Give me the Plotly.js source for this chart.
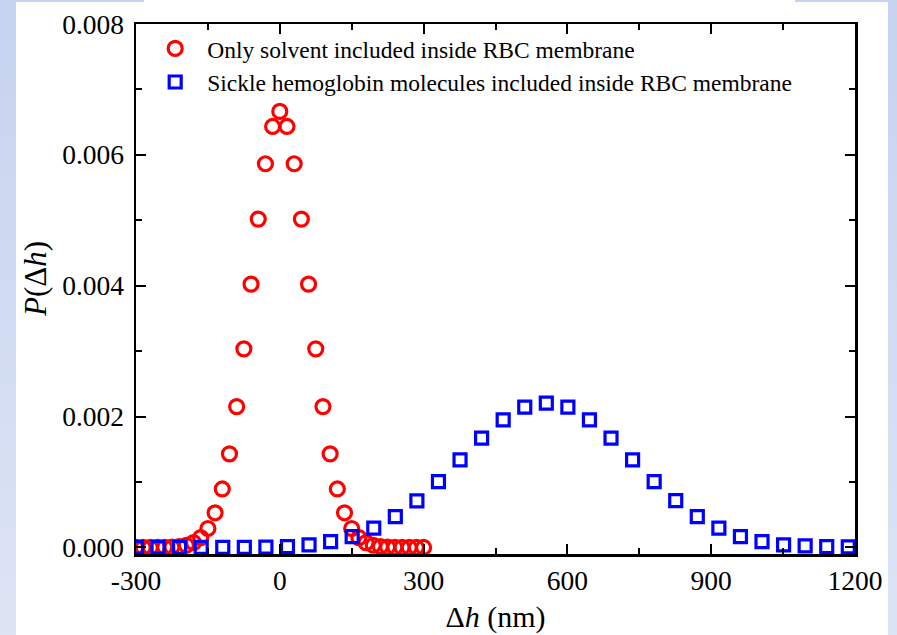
<!DOCTYPE html>
<html><head><meta charset="utf-8">
<script src="https://cdn.plot.ly/plotly-3.0.1.min.js"></script>
<style>
html,body{margin:0;padding:0;}
body{width:897px;height:635px;overflow:hidden;position:relative;background:linear-gradient(#c6d3ef,#dde4f4);}
#bg{position:absolute;left:16px;top:0;width:872px;height:635px;background:#fff;}
#topl{position:absolute;left:16px;top:0;width:128px;height:2px;background:#c6d3ef;}
#topr{position:absolute;left:795px;top:0;width:93px;height:2px;background:#c6d3ef;}
#chart{position:absolute;left:0;top:0;width:897px;height:635px;}
</style></head><body>
<div id="bg"></div><div id="topl"></div><div id="topr"></div><div id="chart"></div>
<script>
// Series 1: only solvent inside RBC membrane (red circles)
const solventX = [-300,-285,-270,-255,-240,-225,-210,-195,-180,-165,-150,-135,-120,-105,-90,-75,-60,-45,-30,-15,0,
                  15,30,45,60,75,90,105,120,135,150,165,180,195,210,225,240,255,270,285,300];
const solventY = [0,0,0,0.000001,0.000002,0.000006,0.000015,0.000034,0.000074,0.00015,0.00029,0.00053,0.000894,0.00143,0.002153,0.003035,0.004024,0.005018,0.005864,0.006434,0.006664,
                  0.006434,0.005864,0.005018,0.004024,0.003035,0.002153,0.00143,0.000894,0.00053,0.00029,0.00015,0.000074,0.000034,0.000015,0.000006,0.000002,0.000001,0,0,0];
// Series 2: sickle hemoglobin molecules inside RBC membrane (blue squares)
const sickleX = [-299,-254,-209,-164,-119,-74,-29,16,61,106,151,196,241,286,331,376,421,466,511,556,
                 601,646,691,736,781,826,871,916,961,1006,1051,1096,1141,1186];
const sickleY = [0,0,0,0,0.000001,0.000002,0.000005,0.000012,0.00004,0.000089,0.000165,0.000294,0.000471,0.000711,0.001006,0.001338,0.00167,0.00195,0.002144,0.002205,
                 0.002144,0.00195,0.00167,0.001338,0.001006,0.000716,0.000471,0.000294,0.000165,0.000089,0.000038,0.000023,0.000012,0.00001];
const seriesNames = ['Only solvent included inside RBC membrane','Sickle hemoglobin molecules included inside RBC membrane'];
const xTickVals = [-300,0,300,600,900,1200];
const xTickText = ['-300','0','300','600','900','1200'];
const xMinorVals = [-150,150,450,750,1050];
const yTickVals = [0,0.002,0.004,0.006,0.008];
const yTickText = ['0.000','0.002','0.004','0.006','0.008'];
const yMinorVals = [0.001,0.003,0.005,0.007];

const FONT = '"Liberation Serif","Times New Roman",serif';

const traces = [
  {x: solventX, y: solventY, name: seriesNames[0], type: 'scatter', mode: 'markers',
   marker: {symbol: 'circle-open', size: 14, color: '#ff0000', line: {width: 3.2, color: '#ff0000'}}},
  {x: sickleX, y: sickleY, name: seriesNames[1], type: 'scatter', mode: 'markers',
   marker: {symbol: 'square-open', size: 12, color: '#0000ff', line: {width: 3.2, color: '#0000ff'}}}
];

const axisCommon = {
  showline: true, linewidth: 2.5, linecolor: '#000', mirror: 'allticks',
  ticks: 'inside', ticklen: 10, tickwidth: 2, tickcolor: '#000',
  showgrid: false, zeroline: false, automargin: false,
  tickfont: {family: FONT, size: 27.5, color: '#000'}
};

const layout = {
  width: 897, height: 635,
  paper_bgcolor: 'rgba(0,0,0,0)', plot_bgcolor: '#fff',
  margin: {l: 136, r: 42, t: 24, b: 81},
  font: {family: FONT, color: '#000'},
  showlegend: true,
  legend: {x: 0.01, y: 0.995, xanchor: 'left', yanchor: 'top', bgcolor: 'rgba(0,0,0,0)',
           itemwidth: 54, traceorder: 'normal',
           font: {family: FONT, size: 23.5, color: '#000'}},
  xaxis: Object.assign({}, axisCommon, {
    range: [-300, 1200], tickmode: 'array', tickvals: xTickVals, ticktext: xTickText,
    minor: {tickmode: 'array', tickvals: xMinorVals, ticks: 'inside', ticklen: 6, tickwidth: 2, tickcolor: '#000'},
    title: {text: 'Δ<i>h</i> (nm)', font: {family: FONT, size: 30, color: '#000'}, standoff: 12}
  }),
  yaxis: Object.assign({}, axisCommon, {
    range: [-0.0001, 0.008], tickmode: 'array', tickvals: yTickVals, ticktext: yTickText,
    ticklabelstandoff: 4,
    minor: {tickmode: 'array', tickvals: yMinorVals, ticks: 'inside', ticklen: 6, tickwidth: 2, tickcolor: '#000'}
  }),
  annotations: [{
    text: '<i>P</i>(Δ<i>h</i>)', xref: 'paper', yref: 'paper', x: -0.139, y: 0.519,
    xanchor: 'center', yanchor: 'middle', textangle: -90, showarrow: false,
    font: {family: FONT, size: 31, color: '#000'}
  }]
};

Plotly.newPlot('chart', traces, layout, {displayModeBar: false, staticPlot: true});
</script>
</body></html>
